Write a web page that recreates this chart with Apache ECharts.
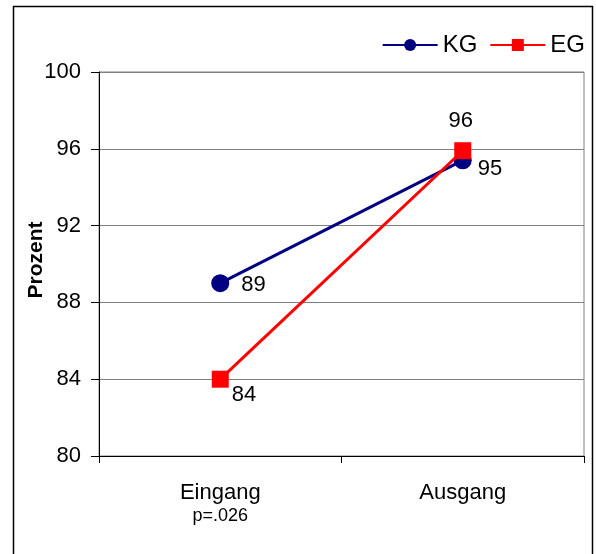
<!DOCTYPE html>
<html>
<head>
<meta charset="utf-8">
<script src="https://cdn.jsdelivr.net/npm/echarts@6/dist/echarts.min.js"></script>
<style>
  html, body { margin: 0; padding: 0; background: #fff; }
  #chart { width: 596px; height: 554px; }
</style>
</head>
<body>
<div id="chart"></div>
<script>
// Survey share (percent) at entry and exit for two groups
const categories = ['Eingang', 'Ausgang'];
const subLabels = ['p=.026', ''];
const kgValues = [89, 95.4];
const egValues = [84, 95.9];
const yTicks = { min: 80, max: 100, step: 4 };

const FONT = '"Liberation Sans", Arial, sans-serif';

function labelFor(pos, distance, offset) {
  return {
    show: true,
    position: pos,
    distance: distance,
    offset: offset,
    color: '#000',
    fontSize: 22,
    fontFamily: FONT,
    formatter: p => Math.round(p.value)
  };
}

const chart = echarts.init(document.getElementById('chart'), null, { renderer: 'canvas' });

chart.setOption({
  animation: false,
  backgroundColor: '#fff',
  textStyle: { fontFamily: FONT },
  graphic: [{
    type: 'rect',
    shape: { x: 13.5, y: 6.5, width: 579, height: 600 },
    style: { fill: 'none', stroke: '#000', lineWidth: 1.5 },
    silent: true
  }],
  grid: {
    left: 99, right: 12, top: 72, bottom: 98,
    show: true, borderColor: '#808080', borderWidth: 1, backgroundColor: 'transparent'
  },
  legend: {
    right: 6, top: 28,
    itemWidth: 55, itemHeight: 15, itemGap: 12,
    textStyle: { fontSize: 24, color: '#000', fontFamily: FONT, padding: [0, 0, 0, 0] },
    data: ['KG', 'EG']
  },
  xAxis: {
    type: 'category',
    data: categories,
    boundaryGap: true,
    axisLine: { lineStyle: { color: '#000', width: 1 } },
    axisTick: { show: true, length: 7, lineStyle: { color: '#000' } },
    axisLabel: {
      margin: 25,
      formatter: (v, i) => subLabels[i] ? '{a|' + v + '}\n{b|' + subLabels[i] + '}' : '{a|' + v + '}',
      rich: {
        a: { fontSize: 22, color: '#000', fontFamily: FONT, lineHeight: 24 },
        b: { fontSize: 18, color: '#000', fontFamily: FONT, lineHeight: 22 }
      }
    }
  },
  yAxis: {
    type: 'value',
    min: yTicks.min, max: yTicks.max, interval: yTicks.step,
    name: 'Prozent',
    nameLocation: 'middle',
    nameRotate: 90,
    nameGap: 52,
    nameMoveOverlap: false,
    nameTextStyle: { fontSize: 21, fontWeight: 'bold', color: '#000', fontFamily: FONT, padding: [0, 0, 0, 8] },
    axisLine: { show: true, lineStyle: { color: '#000', width: 1 } },
    axisTick: { show: true, length: 8, lineStyle: { color: '#000' } },
    axisLabel: { margin: 18, fontSize: 22, color: '#000', fontFamily: FONT },
    splitLine: { show: true, lineStyle: { color: '#808080', width: 1 } }
  },
  series: [
    {
      name: 'KG',
      type: 'line',
      data: kgValues.map((v, i) => ({
        value: v,
        label: i === 0 ? labelFor('right', 12, [0, 2]) : labelFor('right', 6, [0, 9])
      })),
      symbol: 'circle',
      symbolSize: 18,
      lineStyle: { color: '#000080', width: 3 },
      itemStyle: { color: '#000080' },
      z: 2
    },
    {
      name: 'EG',
      type: 'line',
      data: egValues.map((v, i) => ({
        value: v,
        label: i === 0 ? labelFor('right', 3, [0, 16]) : labelFor('top', 10, [-2, 0])
      })),
      symbol: 'rect',
      symbolSize: 17,
      lineStyle: { color: '#ff0000', width: 3 },
      itemStyle: { color: '#ff0000' },
      z: 3
    }
  ]
});
</script>
</body>
</html>
